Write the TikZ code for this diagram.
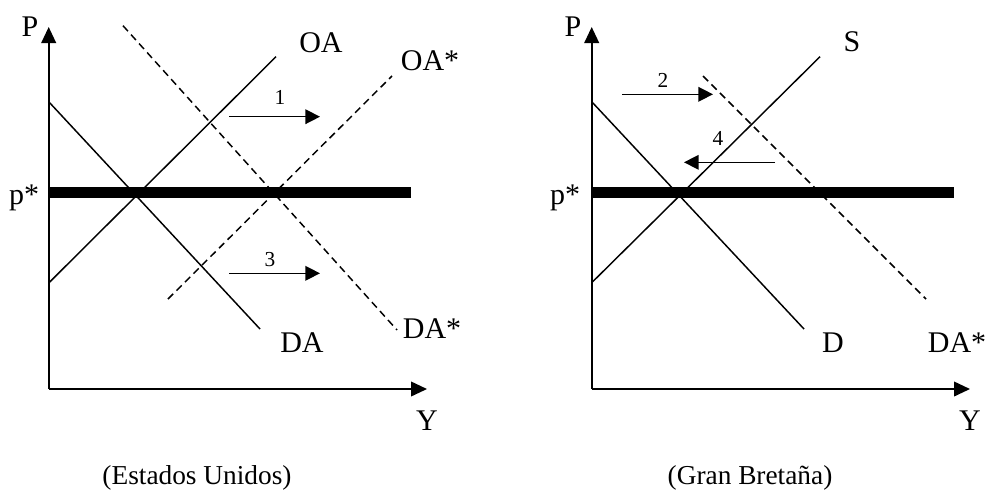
\documentclass[tikz,border=0pt]{standalone}
\usepackage{fontspec}
\setmainfont{Liberation Serif}
\usetikzlibrary{arrows.meta}
\begin{document}
\begin{tikzpicture}[x=0.75pt,y=-0.75pt,
  curve/.style={line width=1.1pt},
  dcurve/.style={line width=1.1pt,dash pattern=on 5.5pt off 3.5pt},
  axis/.style={line width=1.3pt,-{Triangle[length=12pt,width=11pt]}},
  shift arrow/.style={line width=1.1pt,-{Triangle[length=11pt,width=11pt]}},
  pline/.style={line width=8.5pt},
  lab/.style={font=\fontsize{22.5}{26}\selectfont,inner sep=0pt},
  captiontext/.style={font=\fontsize{20.5}{24}\selectfont,inner sep=0pt},
  num/.style={font=\fontsize{16}{18}\selectfont,inner sep=0pt}]
\useasboundingbox (0,0) rectangle (988,497);
% ---------- Left panel ----------
\coordinate (lo) at (48.7,389);
\coordinate (ltop) at (48.7,27);
\coordinate (lright) at (427,389);
\draw[axis] (lo) -- (ltop);
\draw[axis] (lo) -- (lright);
\coordinate (lp1) at (48.7,192.7);
\coordinate (lp2) at (411,192.7);
\draw[pline] (lp1) -- (lp2);
\coordinate (oa1) at (48.7,283);
\coordinate (oa2) at (276,56.7);
\draw[curve] (oa1) -- (oa2);
\coordinate (da1) at (48.7,101.7);
\coordinate (da2) at (260,329);
\draw[curve] (da1) -- (da2);
\coordinate (oas1) at (168,299);
\coordinate (oas2) at (392,76);
\draw[dcurve] (oas1) -- (oas2);
\coordinate (das1) at (123,25.7);
\coordinate (das2) at (397,330);
\draw[dcurve] (das1) -- (das2);
\coordinate (a1s) at (229,116.7);
\coordinate (a1e) at (320,116.7);
\draw[shift arrow] (a1s) -- (a1e);
\coordinate (a3s) at (229,273.3);
\coordinate (a3e) at (320,273.3);
\draw[shift arrow] (a3s) -- (a3e);
\node[num] (n1) at (280,97) {1};
\node[num] (n3) at (270,260) {3};
\node[lab] (lP) at (30,27) {P};
\node[lab] (lOA) at (321,43) {OA};
\node[lab] (lOAs) at (430,61) {OA*};
\node[lab] (lps) at (24,198) {p*};
\node[lab] (lDA) at (302,343) {DA};
\node[lab] (lDAs) at (432,329) {DA*};
\node[lab] (lY) at (427,421) {Y};
\node[captiontext] (capL) at (197,478) {(Estados Unidos)};
% ---------- Right panel ----------
\coordinate (ro) at (591.7,389);
\coordinate (rtop) at (591.7,27);
\coordinate (rright) at (970,389);
\draw[axis] (ro) -- (rtop);
\draw[axis] (ro) -- (rright);
\coordinate (rp1) at (591.7,192.7);
\coordinate (rp2) at (954,192.7);
\draw[pline] (rp1) -- (rp2);
\coordinate (s1) at (591.7,282.7);
\coordinate (s2) at (820,56.7);
\draw[curve] (s1) -- (s2);
\coordinate (d1) at (591.7,101.7);
\coordinate (d2) at (804,329);
\draw[curve] (d1) -- (d2);
\coordinate (rdas1) at (703,76);
\coordinate (rdas2) at (926,299);
\draw[dcurve] (rdas1) -- (rdas2);
\coordinate (a2s) at (622,94.3);
\coordinate (a2e) at (713,94.3);
\draw[shift arrow] (a2s) -- (a2e);
\coordinate (a4s) at (775,162.3);
\coordinate (a4e) at (684,162.3);
\draw[shift arrow] (a4s) -- (a4e);
\node[num] (n2) at (663,80) {2};
\node[num] (n4) at (718,138) {4};
\node[lab] (rP) at (573,27) {P};
\node[lab] (rS) at (852,42) {S};
\node[lab] (rps) at (565,198) {p*};
\node[lab] (rD) at (833,343) {D};
\node[lab] (rDAs) at (957,343) {DA*};
\node[lab] (rY) at (970,421) {Y};
\node[captiontext] (capR) at (750,478) {(Gran Bretaña)};
\end{tikzpicture}
\end{document}
